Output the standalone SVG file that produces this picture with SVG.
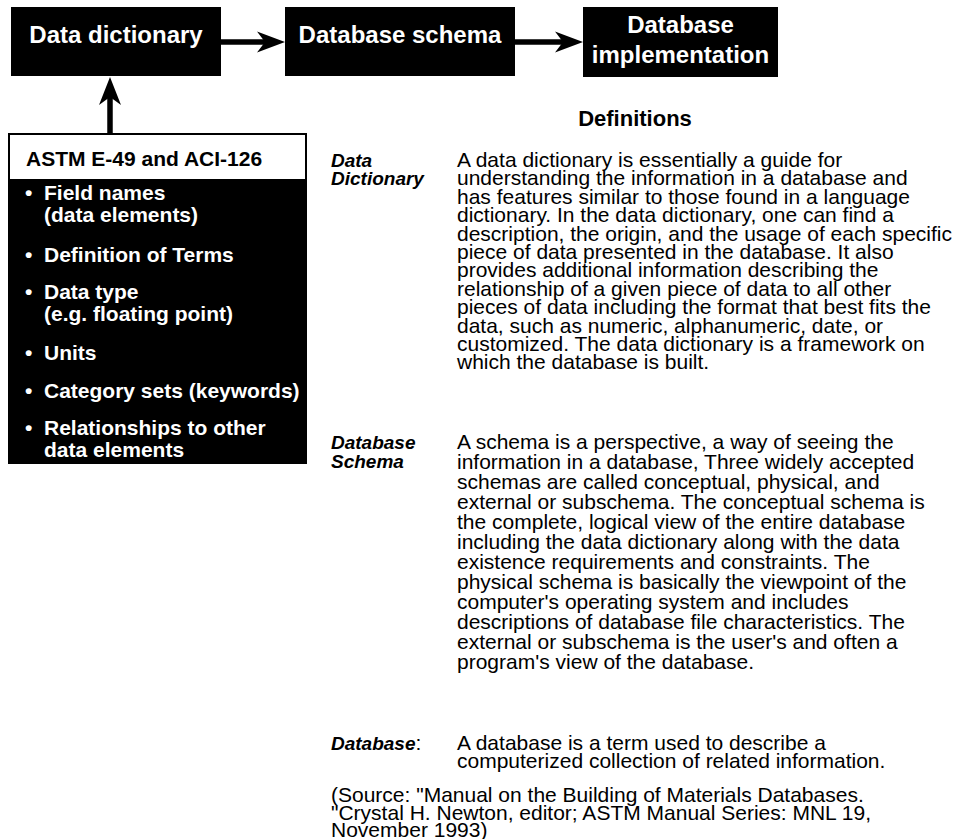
<svg xmlns="http://www.w3.org/2000/svg" width="969" height="839" viewBox="0 0 969 839">
  <style>
    text { font-family: "Liberation Sans", Arial, Helvetica, sans-serif; }
    .box { fill: #000; }
    .boxtxt { fill: #fff; font-weight: bold; font-size: 24px; text-anchor: middle; }
    .std { fill: #000; font-weight: bold; font-size: 21px; }
    .item { fill: #fff; font-weight: bold; font-size: 21px; }
    .head { fill: #000; font-weight: bold; font-size: 22px; text-anchor: middle; }
    .term { fill: #000; font-weight: bold; font-style: italic; font-size: 19px; }
    .body { fill: #000; font-size: 21px; }
    .wire { stroke: #000; stroke-width: 5.5; fill: none; }
    .tip { fill: #000; }
  </style>

  <!-- pipeline boxes -->
  <g id="data-dictionary">
    <rect class="box" x="11" y="7" width="210" height="69"/>
    <text class="boxtxt" x="116" y="43">Data dictionary</text>
  </g>
  <g id="database-schema">
    <rect class="box" x="285" y="7" width="230" height="69"/>
    <text class="boxtxt" x="400" y="43">Database schema</text>
  </g>
  <g id="database-implementation">
    <rect class="box" x="583" y="7" width="195" height="70"/>
    <text class="boxtxt" x="680.5" y="33">Database</text>
    <text class="boxtxt" x="680.5" y="63">implementation</text>
  </g>

  <!-- standards box feeding the data dictionary -->
  <g id="astm-aci">
    <rect class="box" x="8" y="133" width="299" height="331"/>
    <rect x="10" y="135" width="295" height="44" fill="#fff"/>
    <text class="std" x="26" y="166">ASTM E-49 and ACI-126</text>
    <g class="item" xml:space="preserve">
      <text x="25" y="200">•</text><text x="44" y="200">Field names</text>
      <text x="44" y="222">(data  elements)</text>
      <text x="25" y="262">•</text><text x="44" y="262">Definition of Terms</text>
      <text x="25" y="299">•</text><text x="44" y="299">Data type</text>
      <text x="44" y="321">(e.g. floating point)</text>
      <text x="25" y="360">•</text><text x="44" y="360">Units</text>
      <text x="25" y="398">•</text><text x="44" y="398">Category sets (keywords)</text>
      <text x="25" y="435">•</text><text x="44" y="435">Relationships to other</text>
      <text x="44" y="457">data elements</text>
    </g>
  </g>

  <!-- connectors -->
  <g id="connectors">
    <line class="wire" x1="221" y1="42" x2="265" y2="42"/>
    <polygon class="tip" points="285,42 257,31.5 265,42 257,52.5"/>
    <line class="wire" x1="515" y1="42" x2="563" y2="42"/>
    <polygon class="tip" points="583,42 555,31.5 563,42 555,52.5"/>
    <line class="wire" x1="110" y1="133" x2="110" y2="97"/>
    <polygon class="tip" points="110,77 99,105 110,97 121,105"/>
  </g>

  <!-- definitions panel -->
  <g id="definitions">
    <text class="head" x="635" y="126">Definitions</text>

    <text class="term" x="331" y="167">Data</text>
    <text class="term" x="331" y="185.4">Dictionary</text>
    <g class="body">
      <text x="457" y="167">A data dictionary is essentially a guide for</text>
      <text x="457" y="185.4">understanding the information in a database and</text>
      <text x="457" y="203.8">has features similar to those found in a language</text>
      <text x="457" y="222.2">dictionary. In the data dictionary, one can find a</text>
      <text x="457" y="240.6">description, the origin, and the usage of each specific</text>
      <text x="457" y="259">piece of data presented in the database. It also</text>
      <text x="457" y="277.4">provides additional information describing the</text>
      <text x="457" y="295.8">relationship of a given piece of data to all other</text>
      <text x="457" y="314.2">pieces of data including the format that best fits the</text>
      <text x="457" y="332.6">data, such as numeric, alphanumeric, date, or</text>
      <text x="457" y="351">customized. The data dictionary is a framework on</text>
      <text x="457" y="369.4">which the database is built.</text>
    </g>

    <text class="term" x="331" y="449">Database</text>
    <text class="term" x="331" y="468">Schema</text>
    <g class="body" xml:space="preserve">
      <text x="457" y="449">A schema is a perspective, a way of seeing the</text>
      <text x="457" y="469">information in a database, Three widely accepted</text>
      <text x="457" y="489">schemas are called conceptual, physical, and</text>
      <text x="457" y="509">external or subschema. The conceptual schema is</text>
      <text x="457" y="529">the complete, logical view of the entire database</text>
      <text x="457" y="549">including the data dictionary along with the data</text>
      <text x="457" y="569">existence requirements and constraints. The</text>
      <text x="457" y="589">physical schema is basically the viewpoint of the</text>
      <text x="457" y="609">computer's operating system and includes</text>
      <text x="457" y="629">descriptions of database file characteristics. The</text>
      <text x="457" y="649">external or subschema is the user's and often a</text>
      <text x="457" y="669">program's view of  the database.</text>
    </g>

    <text x="331" y="750"><tspan class="term">Database</tspan><tspan class="body" font-size="19px">:</tspan></text>
    <g class="body">
      <text x="457" y="750">A database is a term used to describe a</text>
      <text x="457" y="768.4">computerized collection of related information.</text>
    </g>

    <g class="body">
      <text x="331" y="802">(Source: "Manual on the Building of Materials Databases.</text>
      <text x="331" y="819.5">"Crystal H. Newton, editor; ASTM Manual Series: MNL 19,</text>
      <text x="331" y="836.5">November 1993)</text>
    </g>
  </g>
</svg>
